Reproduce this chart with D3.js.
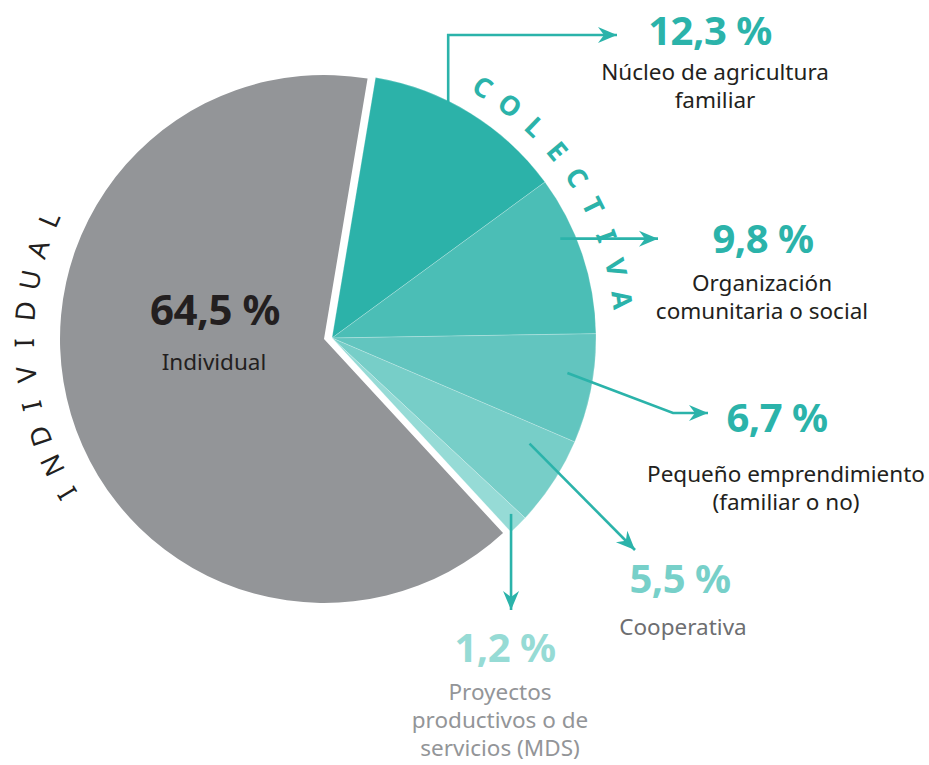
<!DOCTYPE html>
<html>
<head>
<meta charset="utf-8">
<script src="https://cdn.jsdelivr.net/npm/d3@7"></script>
<style>
  html, body { margin: 0; padding: 0; background: #fff; }
  svg { display: block; font-family: "Noto Sans", "Open Sans", sans-serif; }
</style>
</head>
<body>
<svg id="chart" width="929" height="765"></svg>
<script>
// data
const categories = [
  "Núcleo de agricultura familiar",
  "Organización comunitaria o social",
  "Pequeño emprendimiento (familiar o no)",
  "Cooperativa",
  "Proyectos productivos o de servicios (MDS)",
  "Individual"
];
const values = [12.3, 9.8, 6.7, 5.5, 1.2, 64.5];
const groups = ["colectiva", "colectiva", "colectiva", "colectiva", "colectiva", "individual"];
const labelLines = [
  ["Núcleo de agricultura", "familiar"],
  ["Organización", "comunitaria o social"],
  ["Pequeño emprendimiento", "(familiar o no)"],
  ["Cooperativa"],
  ["Proyectos", "productivos o de", "servicios (MDS)"],
  ["Individual"]
];
const groupTitles = { colectiva: "COLECTIVA", individual: "INDIVIDUAL" };

// layout
const center = { x: 324, y: 339 };
const explode = { dx: 8, dy: -1 };
const radius = 264;
const startDeg = 9.5;
const sliceColors = ["#2cb2a9", "#4bbeb6", "#62c5bf", "#77cec8", "#96dbd6", "#939598"];
const valueColors = ["#2bb3aa", "#2bb3aa", "#2bb3aa", "#77d0c9", "#96dbd5", "#231f20"];
const textColors = ["#231f20", "#231f20", "#231f20", "#6d6e71", "#939598", "#231f20"];
const labelPos = [
  { x: 710, y: 45, lineY: 80, lineX: 715 },
  { x: 763, y: 253, lineY: 291, lineX: 762 },
  { x: 777, y: 432, lineY: 482, lineX: 786 },
  { x: 680, y: 593, lineY: 635, lineX: 683 },
  { x: 505, y: 662, lineY: 700, lineX: 500 },
  { x: 215, y: 325, lineY: 370, lineX: 214 }
];
const leaders = [
  { frac: 0.38, r: 262, pts: [[null, 35], [617, 35]] },
  { frac: 0.36, r: 249, pts: [[658, null]] },
  { frac: 0.39, r: 238, pts: [[673, 413], [708, 413]] },
  { frac: 0.25, r: 224, pts: [[635, 550]] },
  { frac: 0.35, r: 251, pts: [[null, 610]] },
  null
];

const teal = "#2bb3aa";
const svg = d3.select("#chart");
const toRad = d => d * Math.PI / 180;

const pie = d3.pie()
  .sort(null)
  .value(d => d.value)
  .startAngle(toRad(startDeg))
  .endAngle(toRad(startDeg + 360));

const rows = values.map((v, i) => ({ value: v, category: categories[i], group: groups[i], i }));
const arcs = pie(rows);

const arc = d3.arc().innerRadius(0).outerRadius(radius);

function groupOrigin(g) {
  return g === "colectiva"
    ? { x: center.x + explode.dx, y: center.y + explode.dy }
    : { x: center.x, y: center.y };
}

function polar(o, angle, r) {
  return [o.x + r * Math.sin(angle), o.y - r * Math.cos(angle)];
}

// slices
const sliceGroup = svg.append("g").attr("id", "slices");
sliceGroup.selectAll("path")
  .data(arcs)
  .enter()
  .append("path")
  .attr("transform", d => {
    const o = groupOrigin(d.data.group);
    return `translate(${o.x},${o.y})`;
  })
  .attr("d", arc)
  .attr("fill", d => sliceColors[d.data.i])
  .attr("stroke", d => d.data.group === "colectiva" ? "#ffffff" : "none")
  .attr("stroke-opacity", 0.35)
  .attr("stroke-width", 0.6);

// arrow marker
svg.append("defs")
  .append("marker")
  .attr("id", "arrow")
  .attr("markerUnits", "userSpaceOnUse")
  .attr("viewBox", "-20 -10 22 20")
  .attr("refX", 0)
  .attr("refY", 0)
  .attr("markerWidth", 22)
  .attr("markerHeight", 20)
  .attr("orient", "auto")
  .append("path")
  .attr("d", "M0,0 L-19,-8 L-13,0 L-19,8 Z")
  .attr("fill", teal);

// leaders
const leaderGroup = svg.append("g").attr("id", "leaders");
arcs.forEach(d => {
  const L = leaders[d.data.i];
  if (!L) return;
  const o = groupOrigin(d.data.group);
  const a = d.startAngle + L.frac * (d.endAngle - d.startAngle);
  const start = polar(o, a, L.r);
  const pts = [start];
  L.pts.forEach(p => {
    const prev = pts[pts.length - 1];
    pts.push([p[0] === null ? prev[0] : p[0], p[1] === null ? prev[1] : p[1]]);
  });
  leaderGroup.append("path")
    .attr("d", d3.line()(pts))
    .attr("fill", "none")
    .attr("stroke", teal)
    .attr("stroke-width", 2.6)
    .attr("marker-end", "url(#arrow)");
});

// labels
const fmt = v => d3.format(".1f")(v).replace(".", ",") + " %";
const labelGroup = svg.append("g").attr("id", "labels");
arcs.forEach(d => {
  const i = d.data.i;
  const p = labelPos[i];
  labelGroup.append("text")
    .attr("x", p.x)
    .attr("y", p.y)
    .attr("text-anchor", "middle")
    .attr("font-size", i === 5 ? 42 : 40)
    .attr("font-weight", 700)
    .attr("letter-spacing", -0.5)
    .attr("fill", valueColors[i])
    .text(fmt(d.data.value));
  const t = labelGroup.append("text")
    .attr("text-anchor", "middle")
    .attr("font-size", 22.5)
    .attr("fill", textColors[i]);
  labelLines[i].forEach((line, k) => {
    t.append("tspan")
      .attr("x", p.lineX)
      .attr("y", p.lineY + k * 28)
      .text(line);
  });
});

// curved group titles
function drawArcTitle(text, origin, fromDeg, toDeg, baseR, opts) {
  const letters = text.split("");
  const step = (toDeg - fromDeg) / (letters.length - 1);
  const g = svg.append("g").attr("class", "arc-title");
  g.selectAll("text")
    .data(letters)
    .enter()
    .append("text")
    .attr("transform", (ch, k) => {
      const a = fromDeg + k * step;
      const pt = polar(origin, toRad(a), baseR);
      return `translate(${pt[0]},${pt[1]}) rotate(${a})`;
    })
    .attr("text-anchor", "middle")
    .attr("font-size", opts.size)
    .attr("font-weight", opts.weight)
    .attr("fill", opts.color)
    .text(ch => ch);
}

drawArcTitle(groupTitles.colectiva, groupOrigin("colectiva"), 31, 82.5, 283,
  { size: 27, weight: 700, color: teal });
drawArcTitle(groupTitles.individual, groupOrigin("individual"), 239, 293.5, 290,
  { size: 27, weight: 400, color: "#231f20" });
</script>
</body>
</html>
